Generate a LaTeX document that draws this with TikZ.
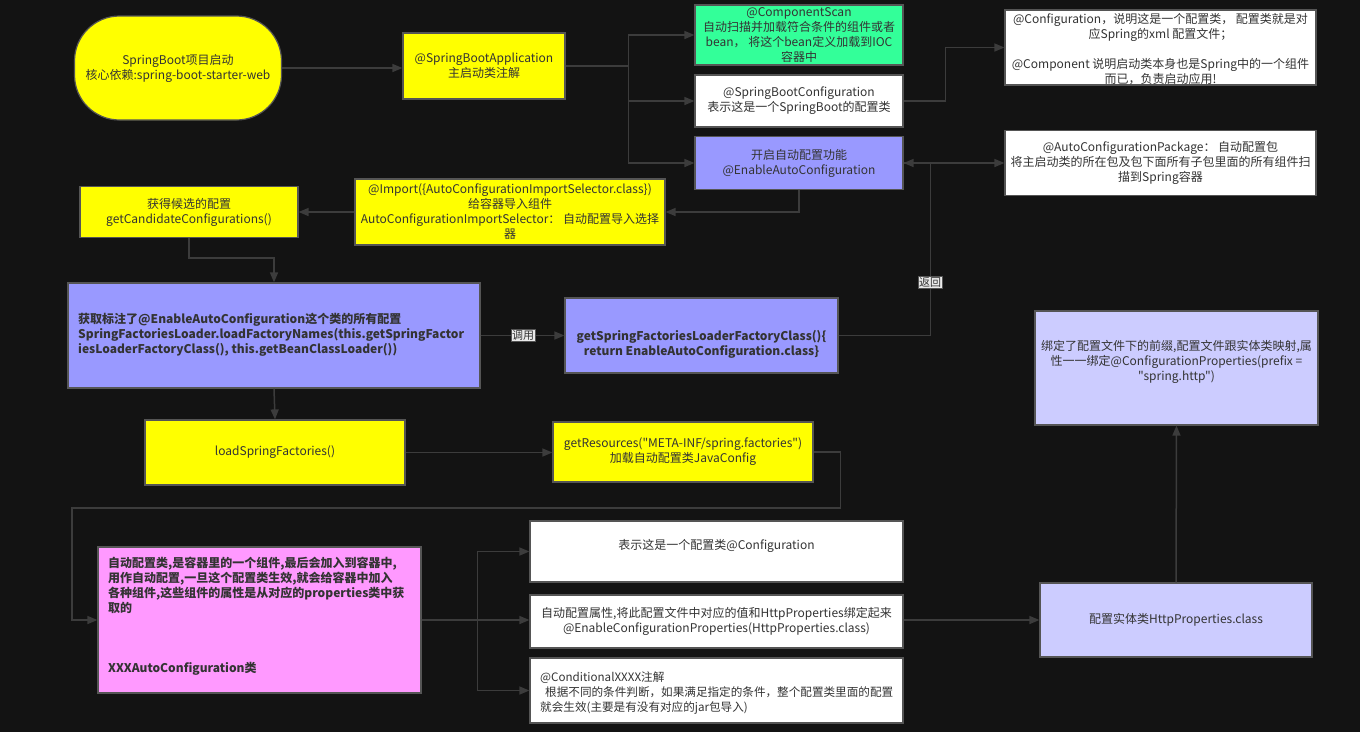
\documentclass[tikz,border=0pt]{standalone}
\usepackage{fontspec}
\setmainfont{Noto Sans CJK SC}[Ligatures=TeXOff]
\usetikzlibrary{arrows.meta}
\definecolor{bg}{HTML}{131313}
\definecolor{linecol}{HTML}{3C3C3C}
\definecolor{bordercol}{HTML}{555555}
\definecolor{txt}{HTML}{333333}
\definecolor{yel}{HTML}{FFFF00}
\definecolor{grn}{HTML}{33FF99}
\definecolor{pur}{HTML}{9999FF}
\definecolor{lpur}{HTML}{CCCCFF}
\definecolor{pnk}{HTML}{FF99FF}
\definecolor{wht}{HTML}{FFFFFF}
\definecolor{lblbg}{HTML}{EAEAEA}
\newcommand{\dq}{\char34{}}
\tikzset{
  box/.style={draw=bordercol, line width=1.2pt, inner sep=0pt, align=center, text=txt},
  txtnode/.style={inner sep=0pt, text=txt},
  arr/.style={draw=linecol, line width=1.5pt, -{Triangle[length=10pt,width=8pt]}},
  lbl/.style={fill=lblbg, draw=bordercol, line width=0.6pt, inner sep=1.2pt, text=txt, font=\fontsize{11}{13}\selectfont}
}
\begin{document}
\begin{tikzpicture}[x=1pt,y=-1pt,font=\fontsize{12}{15}\selectfont]
\fill[bg] (0,0) rectangle (1360,732);
\useasboundingbox (0,0) rectangle (1360,732);

% top row
\node[box, fill=yel, rounded corners=45pt, minimum width=207pt, minimum height=104pt] (start) at (178,68) {SpringBoot项目启动\\核心依赖:spring-boot-starter-web};
\node[box, fill=yel, minimum width=162pt, minimum height=66pt] (sba) at (484,66) {@SpringBootApplication\\主启动类注解};
\node[box, fill=grn, minimum width=208pt, minimum height=60pt] (cscan) at (799,35) {@ComponentScan\\自动扫描并加载符合条件的组件或者\\bean， 将这个bean定义加载到IOC\\容器中};
\node[box, fill=wht, minimum width=208pt, minimum height=52pt] (sbc) at (799,101) {@SpringBootConfiguration\\表示这是一个SpringBoot的配置类};
\node[box, fill=pur, minimum width=208pt, minimum height=53pt] (ena) at (799,163) {开启自动配置功能\\@EnableAutoConfiguration};
\node[box, fill=wht, minimum width=311pt, minimum height=75pt] (conf) at (1160.5,47.5) {};
\node[txtnode, align=center] (conft) at (1160.5,49) {@Configuration，说明这是一个配置类， 配置类就是对\\应Spring的xml 配置文件；\\[15pt]@Component 说明启动类本身也是Spring中的一个组件\\而已，负责启动应用!};
\node[box, fill=wht, minimum width=311pt, minimum height=65pt] (pkg) at (1160.5,163) {@AutoConfigurationPackage： 自动配置包\\将主启动类的所在包及包下面所有子包里面的所有组件扫\\描到Spring容器};

% second row
\node[box, fill=yel, minimum width=310pt, minimum height=66pt] (imp) at (510,212) {@Import(\{AutoConfigurationImportSelector.class\})\\给容器导入组件\\AutoConfigurationImportSelector： 自动配置导入选择\\器};
\node[box, fill=yel, minimum width=218pt, minimum height=51pt] (cand) at (189,212) {获得候选的配置\\getCandidateConfigurations()};

% third row
\node[box, fill=pur, minimum width=412pt, minimum height=105pt] (bigp) at (274,335.5) {};
\node[txtnode, anchor=west, align=left, font=\fontsize{12}{15}\selectfont\bfseries] (bigpt) at (78,335) {获取标注了@EnableAutoConfiguration这个类的所有配置\\SpringFactoriesLoader.loadFactoryNames(this.getSpringFactor\\iesLoaderFactoryClass(), this.getBeanClassLoader())};
\node[box, fill=pur, minimum width=273pt, minimum height=75pt] (getsf) at (701.5,335.5) {};
\node[txtnode, align=center, font=\fontsize{12}{15}\selectfont\bfseries] (getsft) at (701.5,344) {getSpringFactoriesLoaderFactoryClass()\{\\return EnableAutoConfiguration.class\}};

% fourth row
\node[box, fill=yel, minimum width=260pt, minimum height=65pt] (loadsf) at (275,452.5) {loadSpringFactories()};
\node[box, fill=yel, minimum width=260pt, minimum height=60pt] (gres) at (683,452) {getResources(\dq META-INF/spring.factories\dq)\\加载自动配置类JavaConfig};

% bottom
\node[box, fill=pnk, minimum width=323pt, minimum height=146pt] (pink) at (259.5,620) {};
\node[txtnode, anchor=north west, align=left, font=\fontsize{12}{15}\selectfont\bfseries] (pinkt) at (108,557) {自动配置类,是容器里的一个组件,最后会加入到容器中,\\用作自动配置,一旦这个配置类生效,就会给容器中加入\\各种组件,这些组件的属性是从对应的properties类中获\\取的\\[45pt]XXXAutoConfiguration类};
\node[box, fill=wht, minimum width=373pt, minimum height=61pt] (w1) at (716.5,551.5) {};
\node[txtnode] (w1t) at (716.5,546) {表示这是一个配置类@Configuration};
\node[box, fill=wht, minimum width=373pt, minimum height=53pt] (w2) at (716.5,621.5) {自动配置属性,将此配置文件中对应的值和HttpProperties绑定起来\\@EnableConfigurationProperties(HttpProperties.class)};
\node[box, fill=wht, minimum width=373pt, minimum height=65pt] (w3) at (716.5,690.5) {};
\node[txtnode, anchor=west, align=left, font=\fontsize{11.6}{15}\selectfont] (w3t) at (540,693) {@ConditionalXXXX注解\\\hspace*{5pt}根据不同的条件判断，如果满足指定的条件，整个配置类里面的配置\\就会生效(主要是有没有对应的jar包导入)};
\node[box, fill=lpur, minimum width=272pt, minimum height=74pt] (http) at (1176,620) {配置实体类HttpProperties.class};
\node[box, fill=lpur, minimum width=283pt, minimum height=114pt] (bind) at (1176.5,368) {};
\node[txtnode, align=center] (bindt) at (1176.5,362) {绑定了配置文件下的前缀,配置文件跟实体类映射,属\\性一一绑定@ConfigurationProperties(prefix =\\\dq spring.http\dq)};

% connectors
\draw[arr] (start.east) -- (sba.west |- start.east);
\draw[arr] (sba.east) -- ++(63,0) |- (cscan.west);
\draw[arr] (sba.east) -- ++(63,0) |- (sbc.west);
\draw[arr] (sba.east) -- ++(63,0) |- (ena.west);
\draw[arr] (sbc.east) -- ++(42,0) |- (conf.west);
\draw[arr] (ena.east) -- (pkg.west);
\draw[arr] (getsf.east) -- ++(92,0) |- (ena.east);
\node[lbl] (ret) at (930,282) {返回};
\draw[arr] (ena.south) |- (imp.east);
\draw[arr] (imp.west) -- (cand.east);
\draw[arr] (cand.south) -- ++(0,20) -| (bigp.north);
\draw[arr] (bigp.east) -- (getsf.west);
\node[lbl] (call) at (523,335) {调用};
\draw[arr] (bigp.south) -- (loadsf.north);
\draw[arr] (loadsf.east) -- (gres.west |- loadsf.east);
\coordinate (c1) at (72,508);
\draw[arr] (gres.east) -- ++(27,0) |- (c1) |- (pink.west);
\draw[arr] (pink.east) -- ++(56,0) |- (w1.west);
\draw[arr] (pink.east) -- ++(56,0) |- (w2.west |- pink.east);
\draw[arr] (pink.east) -- ++(56,0) |- (w3.west);
\draw[arr] (w2.east |- http.west) -- (http.west);
\draw[arr] (http.north) -- (bind.south);
\end{tikzpicture}
\end{document}
